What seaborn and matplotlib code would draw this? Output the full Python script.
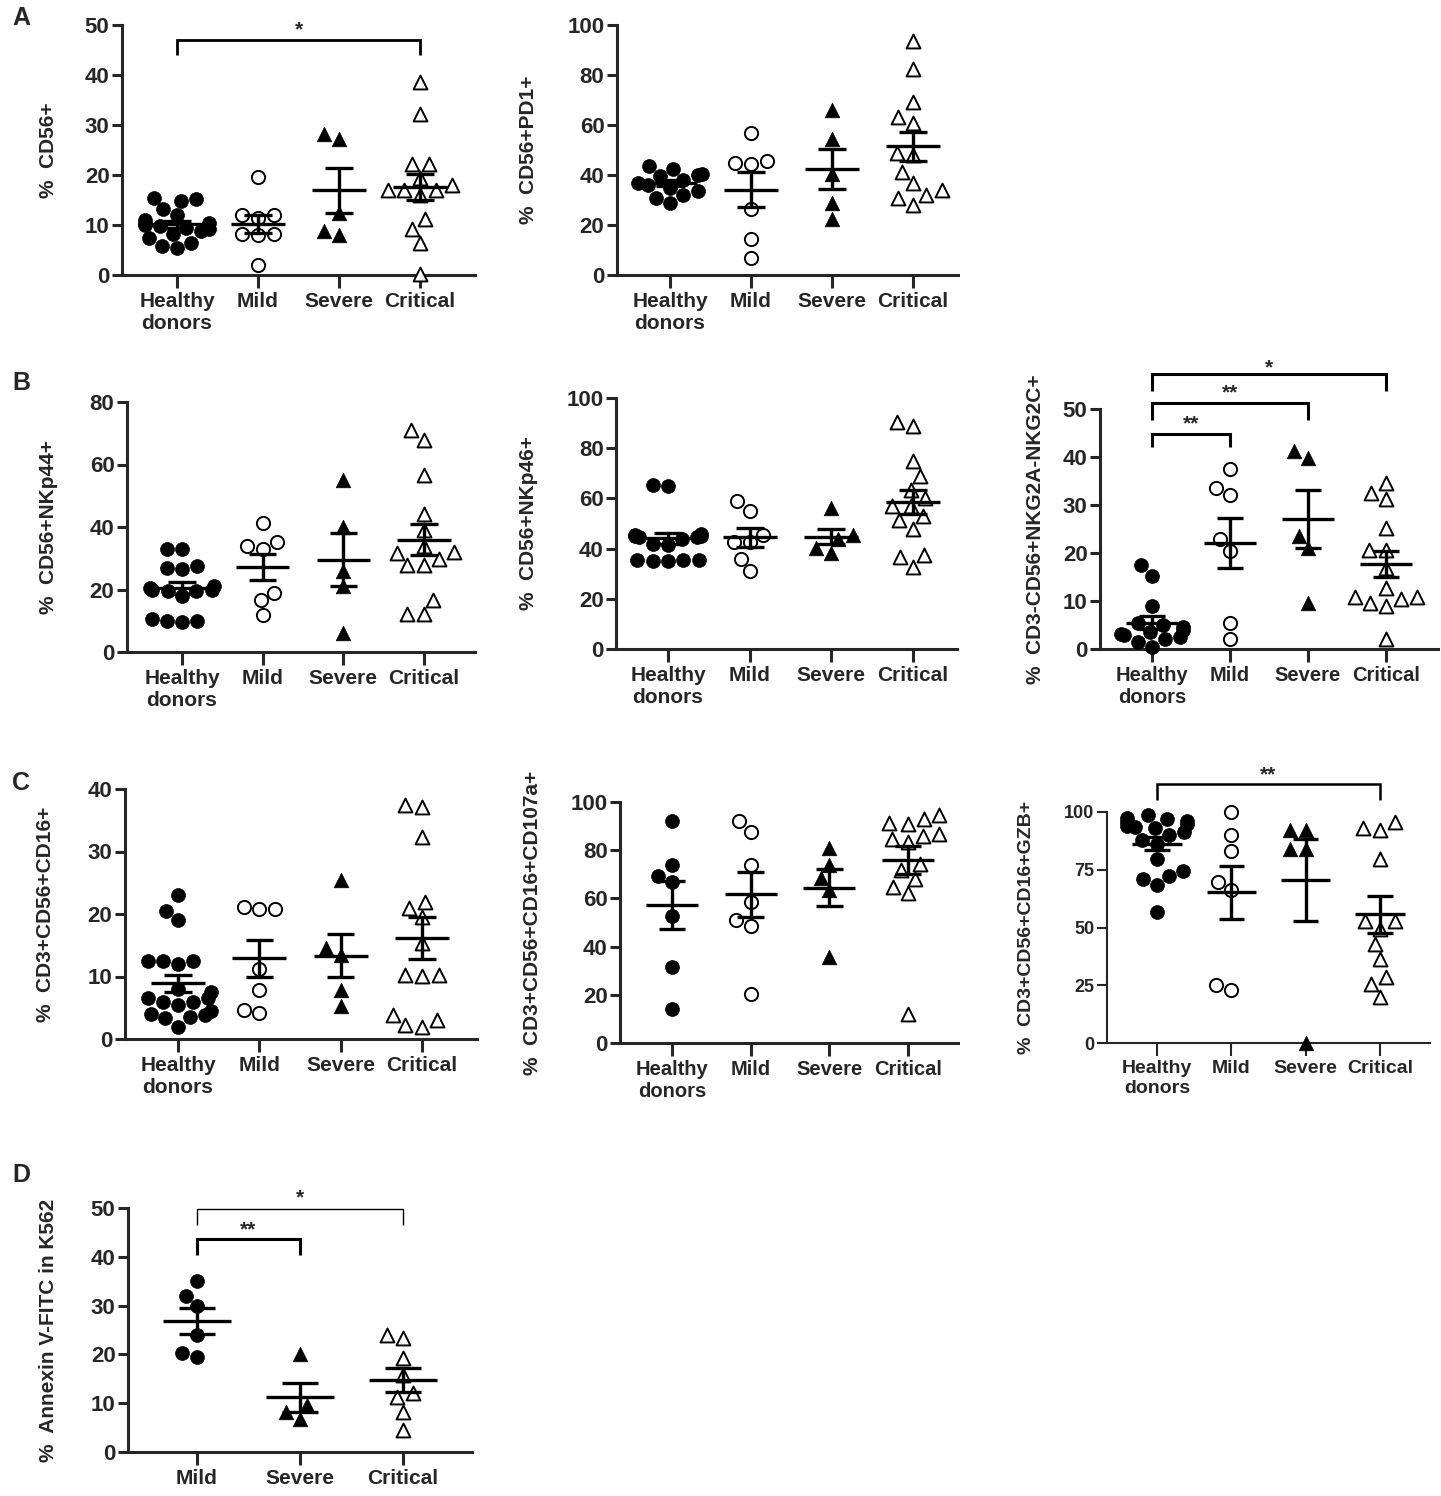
"""
NK cell phenotype scatter panels (A-D), GraphPad style with mean +/- SEM
"""

import numpy as np
import pandas as pd
import matplotlib
matplotlib.use("Agg")
import matplotlib.pyplot as plt
import seaborn as sns
import warnings
warnings.filterwarnings('ignore')

sns.set_style("ticks")
plt.rcParams['font.family'] = ['Liberation Sans', 'DejaVu Sans']
plt.rcParams['font.weight'] = 'bold'
plt.rcParams['axes.labelweight'] = 'bold'

groups4 = ['Healthy\ndonors', 'Mild', 'Severe', 'Critical']
groups3 = ['Mild', 'Severe', 'Critical']

# A - % CD56+
a1_healthy = [15.5, 15.3, 14.8, 13.2, 12.0, 11.0, 10.5, 10.2, 10.0, 9.8, 9.5, 9.2, 8.8, 8.2, 7.5, 6.5, 5.8, 5.4]
a1_mild = [19.7, 12.0, 11.5, 12.0, 8.3, 8.3, 8.1, 2.1]
a1_severe = [27.3, 28.3, 12.5, 8.0, 8.8]
a1_critical = [38.7, 32.3, 22.3, 22.3, 19.5, 18.0, 17.0, 17.0, 17.0, 16.0, 11.3, 9.3, 6.5, 0.3]

# A - % CD56+PD1+
a2_healthy = [43.5, 42.5, 40.5, 40.0, 39.5, 38.0, 37.0, 36.0, 35.0, 33.5, 32.0, 31.0, 29.0]
a2_mild = [57.0, 44.7, 44.4, 45.6, 26.3, 14.3, 6.7]
a2_severe = [66.0, 54.5, 40.5, 28.7, 22.4]
a2_critical = [93.7, 82.3, 69.3, 63.3, 60.7, 48.0, 49.0, 41.3, 36.7, 34.0, 32.0, 30.7, 28.0]

# B - % CD56+NKp44+
b1_healthy = [33.0, 33.0, 27.5, 27.0, 26.5, 21.0, 20.5, 20.0, 20.0, 19.5, 19.5, 18.0, 10.5, 10.0, 10.0, 9.5]
b1_mild = [41.3, 35.2, 33.9, 32.9, 16.5, 19.0, 11.7]
b1_severe = [55.0, 40.0, 26.0, 21.0, 6.0]
b1_critical = [71.0, 67.7, 56.5, 44.3, 39.0, 33.9, 32.0, 31.7, 29.9, 27.7, 27.7, 16.5, 12.3, 12.3]

# B - % CD56+NKp46+
b2_healthy = [65.5, 65.0, 46.0, 45.5, 45.0, 45.0, 44.5, 44.5, 44.0, 42.0, 41.5, 35.5, 35.5, 35.5, 35.0, 35.0]
b2_mild = [58.8, 55.1, 45.6, 42.5, 42.5, 35.9, 30.9]
b2_severe = [56.2, 45.6, 43.8, 38.2, 40.2]
b2_critical = [90.3, 88.7, 74.8, 68.8, 63.5, 60.2, 57.1, 57.1, 51.5, 52.9, 47.9, 37.3, 36.7, 32.7]

# B - % CD3-CD56+NKG2A-NKG2C+
b3_healthy = [17.5, 15.3, 9.0, 5.5, 5.0, 4.5, 4.0, 3.5, 3.2, 3.0, 2.5, 2.0, 1.5, 0.5]
b3_mild = [37.5, 33.5, 32.0, 23.0, 20.5, 5.5, 2.0]
b3_severe = [41.3, 39.8, 23.6, 21.0, 9.6]
b3_critical = [34.6, 31.2, 32.4, 25.2, 20.7, 20.7, 16.9, 12.7, 10.8, 9.6, 10.4, 10.8, 8.9, 2.1]

# C - % CD3+CD56+CD16+
c1_healthy = [23.0, 20.5, 19.0, 12.5, 12.5, 12.5, 12.0, 8.0, 7.5, 6.5, 6.5, 6.0, 6.0, 5.5, 4.5, 4.0, 3.8, 3.5, 3.3, 2.0]
c1_mild = [20.8, 20.8, 21.2, 11.2, 7.8, 4.1, 4.6]
c1_severe = [25.5, 13.5, 14.6, 7.9, 5.3]
c1_critical = [37.5, 37.2, 32.4, 22.0, 21.0, 19.5, 15.3, 10.3, 10.3, 10.1, 3.9, 2.0, 2.3, 3.1]

# C - % CD3+CD56+CD16+CD107a+
c2_healthy = [92.0, 73.7, 69.2, 66.8, 52.7, 31.5, 14.2]
c2_mild = [92.0, 87.6, 73.7, 58.5, 50.9, 48.4, 20.5]
c2_severe = [81.0, 74.0, 68.6, 63.3, 35.7]
c2_critical = [94.5, 93.0, 90.7, 91.3, 86.6, 83.4, 84.8, 85.8, 74.4, 71.6, 68.2, 64.7, 62.2, 12.2]

# C - % CD3+CD56+CD16+GZB+
c3_healthy = [98.5, 97.5, 97.0, 96.0, 95.5, 95.0, 94.0, 93.5, 93.0, 91.5, 90.0, 88.0, 86.0,
              79.5, 74.5, 72.5, 71.0, 68.5, 56.5]
c3_mild = [100.0, 89.9, 83.0, 69.7, 66.1, 22.8, 25.0]
c3_severe = [92.4, 92.4, 84.1, 84.1, 0.0]
c3_critical = [95.7, 93.2, 92.4, 79.8, 52.7, 52.7, 49.5, 43.0, 36.5, 28.6, 25.7, 19.9]

# D - % Annexin V-FITC in K562
d_mild = [35.1, 32.0, 30.0, 24.0, 19.4, 20.2]
d_severe = [20.1, 9.6, 6.8, 8.2]
d_critical = [24.0, 23.3, 19.2, 15.8, 12.0, 11.2, 8.2, 4.6]

# marker styles (marker, face colour, size)
FILLED_O = ('o', 'black', 10.0)
OPEN_O = ('o', 'white', 9.5)
FILLED_T = ('^', 'black', 10.5)
OPEN_T = ('^', 'white', 10.0)
STYLE4 = [FILLED_O, OPEN_O, FILLED_T, OPEN_T]
STYLE_D = [FILLED_O, FILLED_T, OPEN_T]

W, H = 1441, 1496

# layout in pixels: left spine, right end, y of 0, y of top tick, first / last category centre, label offset
panels = [
    dict(groups=groups4, data=[a1_healthy, a1_mild, a1_severe, a1_critical], style=STYLE4,
         ylabel='%  CD56+', yticks=[0, 10, 20, 30, 40, 50],
         box=(122, 475, 275, 25, 177, 420, 64), fs=(16, 15, 15), lw=2.2,
         brackets=[(0, 3, 47.0, 44.0, '*', 50.3, 2.0)]),
    dict(groups=groups4, data=[a2_healthy, a2_mild, a2_severe, a2_critical], style=STYLE4,
         ylabel='%  CD56+PD1+', yticks=[0, 20, 40, 60, 80, 100],
         box=(617, 958, 275, 25, 670, 913, 79), fs=(16, 15, 15), lw=2.2, brackets=[]),
    dict(groups=groups4, data=[b1_healthy, b1_mild, b1_severe, b1_critical], style=STYLE4,
         ylabel='%  CD56+NKp44+', yticks=[0, 20, 40, 60, 80],
         box=(127, 475, 652, 402, 182, 424, 69), fs=(16, 15, 15), lw=2.2, brackets=[]),
    dict(groups=groups4, data=[b2_healthy, b2_mild, b2_severe, b2_critical], style=STYLE4,
         ylabel='%  CD56+NKp46+', yticks=[0, 20, 40, 60, 80, 100],
         box=(616, 957, 649, 398, 668, 913, 78), fs=(16, 15, 15), lw=2.2, brackets=[]),
    dict(groups=groups4, data=[b3_healthy, b3_mild, b3_severe, b3_critical], style=STYLE4,
         ylabel='%  CD3-CD56+NKG2A-NKG2C+', yticks=[0, 10, 20, 30, 40, 50],
         box=(1100, 1438, 649, 409, 1152, 1386, 55), fs=(16, 14.5, 15), lw=2.2,
         brackets=[(0, 1, 44.8, 42.1, '**', 48.3, 2.2),
                   (0, 2, 51.25, 47.8, '**', 54.7, 2.2),
                   (0, 3, 57.2, 53.7, '*', 59.9, 2.2)]),
    dict(groups=groups4, data=[c1_healthy, c1_mild, c1_severe, c1_critical], style=STYLE4,
         ylabel='%  CD3+CD56+CD16+', yticks=[0, 10, 20, 30, 40],
         box=(125, 477, 1039, 789, 178, 422, 70), fs=(16, 15, 15), lw=2.2, brackets=[]),
    dict(groups=groups4, data=[c2_healthy, c2_mild, c2_severe, c2_critical], style=STYLE4,
         ylabel='%  CD3+CD56+CD16+CD107a+', yticks=[0, 20, 40, 60, 80, 100],
         box=(620, 958, 1043, 802, 672, 908, 78), fs=(16, 14.5, 15), lw=2.2, brackets=[]),
    dict(groups=groups4, data=[c3_healthy, c3_mild, c3_severe, c3_critical], style=STYLE4,
         ylabel='%  CD3+CD56+CD16+GZB+', yticks=[0, 25, 50, 75, 100],
         box=(1107, 1430, 1043, 812, 1157, 1380, 72), fs=(13, 14, 14), lw=1.5,
         brackets=[(0, 3, 112.3, 105.3, '**', 118.8, 1.8)]),
    dict(groups=groups3, data=[d_mild, d_severe, d_critical], style=STYLE_D,
         ylabel='%  Annexin V-FITC in K562', yticks=[0, 10, 20, 30, 40, 50],
         box=(128, 472, 1452, 1208, 197, 403, 70), fs=(16, 15, 15), lw=2.2,
         brackets=[(0, 1, 43.7, 40.3, '**', 46.9, 2.2),
                   (0, 2, 49.8, 46.6, '*', 53.4, 1.0)]),
]

panel_letters = [('A', 12, 18), ('B', 12, 383), ('C', 12, 783), ('D', 12, 1175)]


def draw_panel(fig, p):
    left, right, y0, ytop, c0, cn, lab_off = p['box']
    groups = p['groups']
    ymax = p['yticks'][-1]
    ppu = (y0 - ytop) / ymax
    top_val = ymax * 1.03
    ax_h = top_val * ppu
    ax = fig.add_axes([left / W, 1 - y0 / H, (right - left) / W, ax_h / H])

    n = len(groups)
    spacing = (cn - c0) / (n - 1)
    xlo = (left - c0) / spacing
    xhi = (right - c0) / spacing

    for i, (g, vals) in enumerate(zip(groups, p['data'])):
        marker, face, size = p['style'][i]
        df = pd.DataFrame({'group': [g] * len(vals), 'value': vals})
        sns.swarmplot(data=df, x='group', y='value', order=groups, ax=ax,
                      marker=marker, color=face, edgecolor='black',
                      linewidth=1.4 if face == 'white' else 0.5, size=size)

    for coll in ax.collections:
        coll.set_clip_on(False)

    # mean +/- SEM
    for i, vals in enumerate(p['data']):
        v = np.asarray(vals)
        m = v.mean()
        sem = v.std(ddof=1) / np.sqrt(len(v))
        ax.hlines(m, i - 0.33, i + 0.33, color='black', lw=2.4, zorder=5)
        ax.hlines([m - sem, m + sem], i - 0.17, i + 0.17, color='black', lw=2.4, zorder=5)
        ax.vlines(i, m - sem, m + sem, color='black', lw=2.4, zorder=5)

    ax.set_xlim(xlo, xhi)
    ax.set_ylim(0, top_val)
    ax.set_yticks(p['yticks'])
    ax.set_xticks(range(n))
    ax.set_xticklabels(groups)
    fs_y, fs_x, fs_lab = p['fs']
    ax.tick_params(axis='y', labelsize=fs_y, length=7, width=p['lw'], pad=2)
    ax.tick_params(axis='x', labelsize=fs_x, length=9.5, width=p['lw'], pad=3)
    for t in ax.get_xticklabels() + ax.get_yticklabels():
        t.set_fontweight('bold')
    ax.set_xlabel('')
    ax.set_ylabel(p['ylabel'], fontsize=fs_lab, fontweight='bold')
    ax.yaxis.set_label_coords(-lab_off / (right - left), (ymax / 2) / top_val)

    sns.despine(ax=ax)
    ax.spines['left'].set_bounds(0, ymax)
    ax.spines['left'].set_linewidth(p['lw'])
    ax.spines['bottom'].set_linewidth(p['lw'])
    ax.set_facecolor('none')

    for x1, x2, yb, yd, label, ys, blw in p['brackets']:
        ax.plot([x1, x1, x2, x2], [yd, yb, yb, yd], color='black', lw=blw,
                clip_on=False, solid_joinstyle='miter', solid_capstyle='butt')
        ax.annotate(label, ((x1 + x2) / 2, ys), xytext=(0, -8.5), textcoords='offset points',
                    ha='center', va='baseline', fontsize=15, fontweight='bold',
                    annotation_clip=False)
    return ax


fig = plt.figure(figsize=(W / 100, H / 100), dpi=100)
for p in panels:
    draw_panel(fig, p)

for letter, x, y in panel_letters:
    fig.text(x / W, 1 - y / H, letter, fontsize=18, fontweight='bold', va='center', ha='left')

fig.savefig('out.png', dpi=100)
plt.close(fig)
